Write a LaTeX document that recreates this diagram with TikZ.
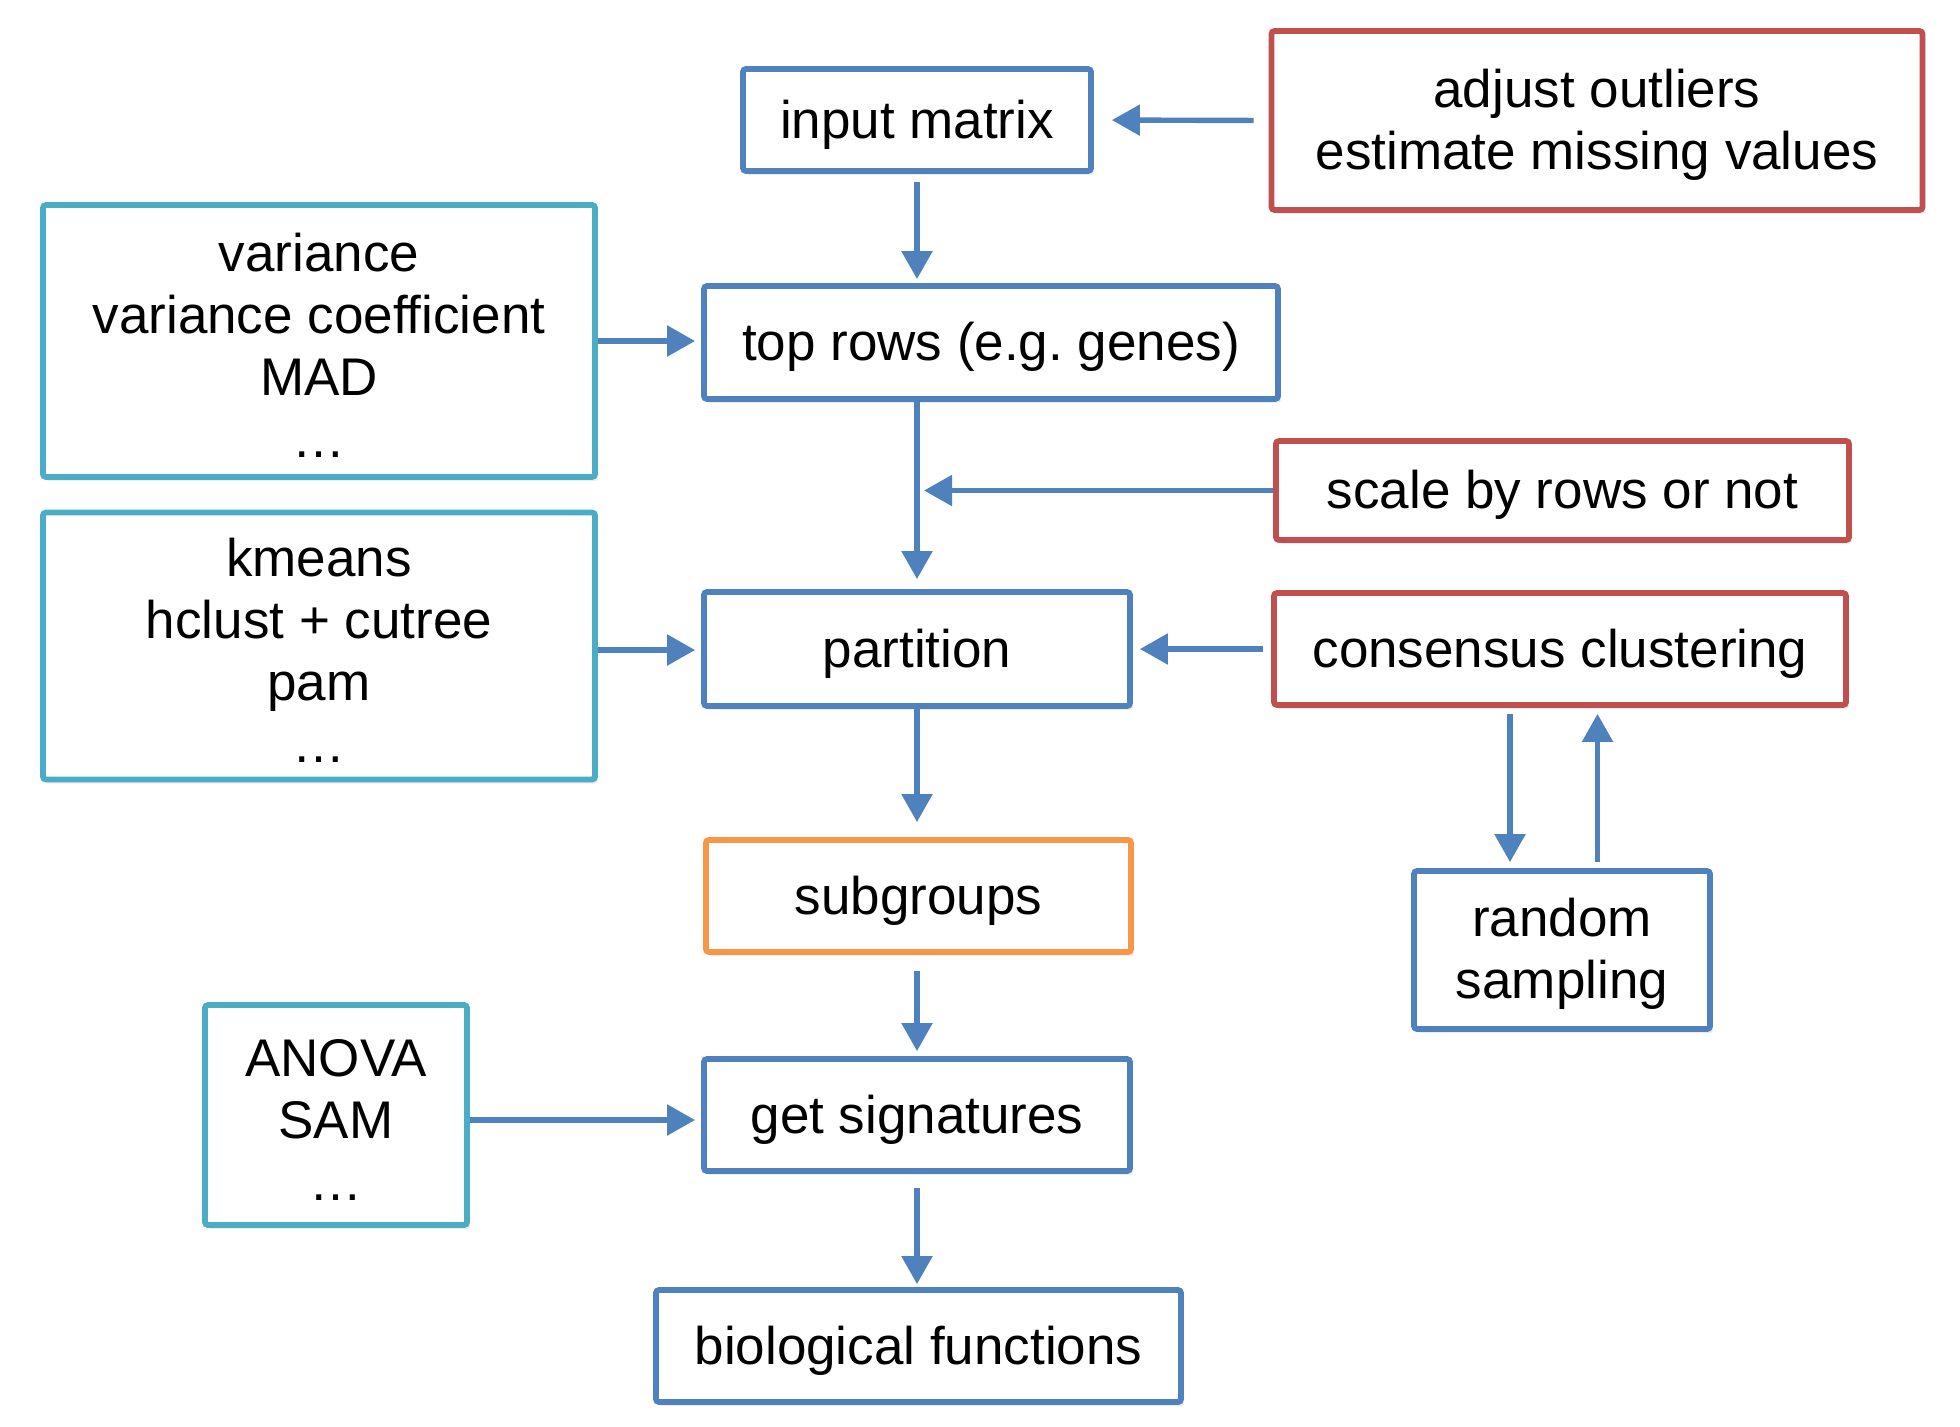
\documentclass[tikz,border=0pt]{standalone}
\usepackage{fontspec}
\setmainfont{Liberation Sans}
\usetikzlibrary{arrows.meta,shadows}
\definecolor{cblue}{HTML}{4F81BD}
\definecolor{cred}{HTML}{C0504D}
\definecolor{ccyan}{HTML}{4BACC6}
\definecolor{corange}{HTML}{F79646}
\newcommand\firststrut{\rule{0pt}{23pt}}
\begin{document}
\begin{tikzpicture}[x=0.5pt,y=-0.5pt,
  box/.style={draw, line width=2.9pt, rounded corners=1.5pt, fill=white,
    align=center, inner sep=0pt, font=\fontsize{26.5}{31}\selectfont,
    drop shadow={opacity=0.15, shadow xshift=1.5pt, shadow yshift=-2pt}},
  single/.style={execute at begin node={\rule{0pt}{24pt}},
    execute at end node={\rule[-5.6pt]{0pt}{5.6pt}}},
  bluebox/.style={box, draw=cblue},
  redbox/.style={box, draw=cred},
  cyanbox/.style={box, draw=ccyan},
  orangebox/.style={box, draw=corange},
  arr/.style={draw=cblue, line width=2.7pt, -{Triangle[length=14pt,width=15pt]}}
]
\useasboundingbox (0,0) rectangle (1960,1426);

\node[bluebox, single, minimum width=174pt, minimum height=51pt] (input) at (917,120) {input matrix};
\node[redbox, minimum width=325.5pt, minimum height=89.5pt] (adjust) at (1597,120.5) {\firststrut adjust outliers\\estimate missing values};
\node[cyanbox, minimum width=276pt, minimum height=136pt] (variance) at (319,341) {\firststrut variance\\variance coefficient\\MAD\\…};
\node[bluebox, single, minimum width=287pt, minimum height=56.5pt] (toprows) at (991,342.5) {top rows (e.g.\ genes)};
\node[redbox, single, minimum width=286.5pt, minimum height=49.5pt] (scale) at (1562.5,490.5) {scale by rows or not};
\node[cyanbox, minimum width=276pt, minimum height=133.5pt] (kmeans) at (319,646) {\firststrut kmeans\\hclust + cutree\\pam\\…};
\node[bluebox, single, minimum width=213pt, minimum height=57pt] (partition) at (917,649) {partition};
\node[redbox, single, minimum width=286pt, minimum height=56pt] (consensus) at (1560,649) {consensus clustering};
\node[orangebox, single, minimum width=212.5pt, minimum height=56pt] (subgroups) at (918.5,896) {subgroups};
\node[bluebox, minimum width=148pt, minimum height=79pt] (random) at (1562,950) {\firststrut random\\sampling};
\node[cyanbox, minimum width=131pt, minimum height=110pt] (anova) at (336,1115) {\firststrut ANOVA\\SAM\\…};
\node[bluebox, single, minimum width=213pt, minimum height=56pt] (getsig) at (917,1115) {get signatures};
\node[bluebox, single, minimum width=262.5pt, minimum height=56pt] (bio) at (918.5,1346) {biological functions};

\draw[arr, shorten <=7.5pt, shorten >=9pt] (adjust.west) -- (input.east);
\draw[arr, shorten <=4pt, shorten >=2pt] (input.south) -- (input.south |- toprows.north);
\draw[arr, shorten >=3pt] (variance.east) -- (variance.east -| toprows.west);
\draw[arr, shorten >=5pt] (partition.north |- toprows.south) -- (partition.north);
\draw[arr, shorten >=3.5pt] (scale.west) -- (scale.west -| partition.north);
\draw[arr, shorten <=4pt, shorten >=3.5pt] (consensus.west) -- (partition.east);
\draw[arr, shorten >=3pt] ([yshift=-2pt]kmeans.east) -- ([yshift=-2pt]kmeans.east -| partition.west);
\draw[arr, shorten >=7.5pt] (partition.south) -- (partition.south |- subgroups.north);
\draw[arr, shorten <=3pt, shorten >=3pt] ([xshift=-25pt]consensus.south) -- ([xshift=-25pt]consensus.south |- random.north);
\draw[arr, shorten <=3pt, shorten >=3pt] ([xshift=18.75pt]consensus.south |- random.north) -- ([xshift=18.75pt]consensus.south);
\draw[arr, shorten <=8pt, shorten >=2.5pt] (getsig.north |- subgroups.south) -- (getsig.north);
\draw[arr, shorten >=3pt] ([yshift=-2.5pt]anova.east) -- ([yshift=-2.5pt]anova.east -| getsig.west);
\draw[arr, shorten <=7pt, shorten >=1.5pt] (getsig.south) -- (getsig.south |- bio.north);
\end{tikzpicture}
\end{document}
